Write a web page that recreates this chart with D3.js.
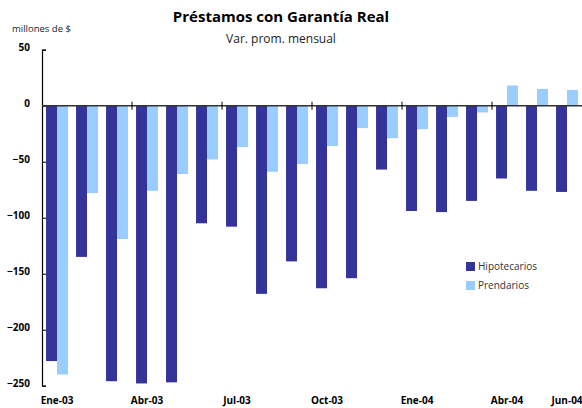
<!DOCTYPE html>
<html>
<head>
<meta charset="utf-8">
<script src="https://d3js.org/d3.v7.min.js"></script>
<style>
body { margin: 0; background: #fff; }
text { font-family: "Open Sans", "DejaVu Sans", sans-serif; }
.tick text { font-weight: bold; font-size: 10px; fill: #000; }
</style>
</head>
<body>
<svg width="582" height="408"></svg>
<script>

var months = ["Ene-03","Feb-03","Mar-03","Abr-03","May-03","Jun-03","Jul-03","Ago-03","Sep-03",
              "Oct-03","Nov-03","Dic-03","Ene-04","Feb-04","Mar-04","Abr-04","May-04","Jun-04"];
var hipotecarios = [-228,-135,-246,-248,-247,-105,-108,-168,-139,-163,-154,-57,-94,-95,-85,-65,-76,-77];
var prendarios = [-240,-78,-119,-76,-61,-48,-37,-59,-52,-36,-20,-29,-21,-10,-6,18,15,14];
var shownLabels = ["Ene-03","Abr-03","Jul-03","Oct-03","Ene-04","Abr-04","Jun-04"];
var tickMonths = ["Abr-03","Jul-03","Oct-03","Ene-04","Abr-04"];
var yTicks = [50,0,-50,-100,-150,-200,-250];
var seriesNames = ["Hipotecarios","Prendarios"];
var colors = ["#333399","#99ccff"];

var svg = d3.select("svg");

var x = d3.scaleBand()
    .domain(months)
    .range([42, 582])
    .paddingInner(0.27)
    .paddingOuter(0.135);

var y = d3.scaleLinear()
    .domain([-250, 50])
    .range([385.7, 49.7]);

var sub = d3.scaleBand()
    .domain(seriesNames)
    .range([0, x.bandwidth()]);

// title
svg.append("text")
    .attr("x", 281).attr("y", 22)
    .attr("text-anchor", "middle")
    .style("font-size", "15px").style("font-weight", "bold")
    .text("Préstamos con Garantía Real");

svg.append("text")
    .attr("x", 281).attr("y", 43)
    .attr("text-anchor", "middle")
    .style("font-size", "12px").style("fill", "#222")
    .text("Var. prom. mensual");

svg.append("text")
    .attr("x", 12).attr("y", 32)
    .style("font-size", "9.5px").style("fill", "#222")
    .text("millones de $");

// bars
var data = [hipotecarios, prendarios];
data.forEach(function(vals, s) {
  svg.append("g").selectAll("rect")
    .data(vals)
    .enter().append("rect")
      .attr("x", function(d, i) { return x(months[i]) + sub(seriesNames[s]); })
      .attr("width", sub.bandwidth())
      .attr("y", function(d) { return y(Math.max(0, d)); })
      .attr("height", function(d) { return Math.abs(y(d) - y(0)); })
      .attr("fill", colors[s]);
});

// y axis
var yAxis = d3.axisRight(y).tickValues(yTicks).tickSize(4).tickFormat(d3.format("d"));
var gy = svg.append("g").attr("transform", "translate(42,0)").call(yAxis);
gy.select(".domain").attr("stroke", "#000").attr("stroke-width", 1.2);
gy.selectAll(".tick line").attr("stroke", "#000");
gy.selectAll(".tick text").attr("x", -12).attr("text-anchor", "end").attr("dy", "0.1em");

// month labels at the bottom
var step = x.step();
var xAxis = d3.axisBottom(x).tickValues(shownLabels).tickSize(0);
var gx = svg.append("g").attr("transform", "translate(0,404)").call(xAxis);
gx.select(".domain").remove();
gx.selectAll(".tick text").attr("y", 0).attr("dy", null);

// zero line with quarter ticks
svg.append("line")
    .attr("x1", 42).attr("x2", 582)
    .attr("y1", y(0)).attr("y2", y(0))
    .attr("stroke", "#333").attr("stroke-width", 1.5);

svg.append("g").selectAll("line")
    .data(tickMonths)
    .enter().append("line")
      .attr("x1", function(d) { return x(d) - x.paddingInner() * step / 2; })
      .attr("x2", function(d) { return x(d) - x.paddingInner() * step / 2; })
      .attr("y1", y(0) - 4).attr("y2", y(0) + 4)
      .attr("stroke", "#000").attr("stroke-width", 1);

// legend
var legend = svg.append("g").selectAll("g")
    .data(seriesNames)
    .enter().append("g")
      .attr("transform", function(d, i) { return "translate(466," + (262 + i * 19) + ")"; });
legend.append("rect").attr("width", 9).attr("height", 9).attr("fill", function(d, i) { return colors[i]; });
legend.append("text")
    .attr("x", 12).attr("y", 8)
    .style("font-size", "10px").style("fill", "#333")
    .text(function(d) { return d; });

</script>
</body>
</html>
